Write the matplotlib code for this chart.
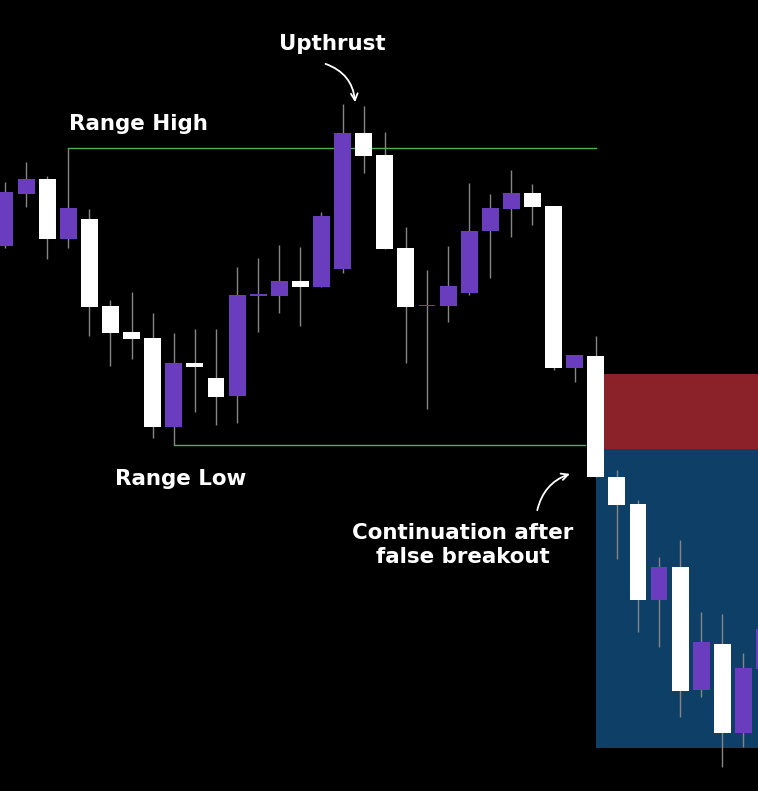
import matplotlib.pyplot as plt
from matplotlib.patches import FancyArrowPatch
import numpy as np

# candle prices (arbitrary price units)
opens = [545, 597, 612, 552, 572, 485, 459, 453, 364, 428, 413, 395, 495, 495, 510, 504, 522, 658, 636,
         543, 485, 485, 498, 560, 582, 598, 585, 423, 435, 314, 287, 191, 224, 101, 147, 58, 122]
highs = [609, 629, 615, 643, 582, 491, 499, 478, 458, 462, 462, 524, 533, 546, 544, 579, 687, 685, 659,
         564, 521, 545, 608, 597, 621, 607, 585, 436, 455, 321, 291, 234, 251, 179, 177, 138, 176]
lows = [543, 584, 532, 543, 455, 425, 432, 353, 346, 379, 366, 368, 459, 478, 465, 504, 518, 618, 542,
        428, 382, 469, 496, 513, 554, 566, 421, 409, 314, 232, 159, 144, 74, 94, 24, 44, 111]
closes = [599, 612, 552, 583, 484, 458, 452, 364, 428, 424, 394, 496, 497, 510, 504, 575, 658, 635, 542,
          484, 486, 505, 560, 583, 598, 584, 423, 436, 314, 286, 191, 224, 100, 149, 58, 123, 162]

range_high_idx = 3
range_low_idx = 8
upthrust_idx = 16
breakout_idx = 28

# supply (red) and continuation (blue) boxes: price bottom, top
red_zone = (342, 417)
blue_zone = (43, 342)

PURPLE = '#6a3dbf'
WICK = '#858585'

fig = plt.figure(figsize=(7.58, 7.91), dpi=100, facecolor='black')
ax = fig.add_axes([0, 0, 1, 1])
ax.set_facecolor('black')
ax.set_xlim(-0.237, 35.69)
ax.set_ylim(0, 791)
ax.axis('off')

n = len(opens)
x = np.arange(n)
o = np.array(opens)
c = np.array(closes)
up = c >= o

# zones
ax.fill_between([breakout_idx + 0.4, 40], red_zone[0], red_zone[1], color='#8b2129', lw=0, zorder=1)
ax.fill_between([breakout_idx, 40], blue_zone[0], blue_zone[1], color='#0e3f66', lw=0, zorder=1)

# range lines
rh = highs[range_high_idx]
rl = lows[range_low_idx]
ax.plot([range_high_idx, breakout_idx], [rh, rh], color='#4caf50', lw=1, zorder=2)
ax.plot([range_low_idx, breakout_idx - 0.5], [rl, rl], color='#4caf50', lw=1, zorder=2)

# candles
ax.vlines(x, lows, highs, color=WICK, lw=1, zorder=3)
body_bot = np.minimum(o, c)
body_h = np.maximum(np.abs(c - o), 1.5)
colors = [PURPLE if u else 'white' for u in up]
ax.bar(x, body_h, bottom=body_bot, width=0.8, color=colors, lw=0, zorder=4)

# labels
font = dict(family='DejaVu Sans', weight='bold', size=15.4, color='white')
ax.text(3.03, 667, 'Range High', ha='left', va='center', **font)
ax.text(5.21, 312, 'Range Low', ha='left', va='center', **font)
ax.text(15.5, 747, 'Upthrust', ha='center', va='center', **font)
ax.text(21.7, 246, 'Continuation after\nfalse breakout', ha='center', va='center',
        linespacing=1.3, **font)

# arrows
a1 = FancyArrowPatch((15.07, 728), (upthrust_idx + 0.6, highs[upthrust_idx] - 1),
                     connectionstyle='arc3,rad=-0.35', arrowstyle='->', mutation_scale=12,
                     color='white', lw=1.3, zorder=6)
ax.add_patch(a1)
a2 = FancyArrowPatch((25.2, 278), (26.9, 318),
                     connectionstyle='arc3,rad=-0.3', arrowstyle='->', mutation_scale=12,
                     color='white', lw=1.3, zorder=6)
ax.add_patch(a2)

fig.savefig('out.png', dpi=100, facecolor='black')
